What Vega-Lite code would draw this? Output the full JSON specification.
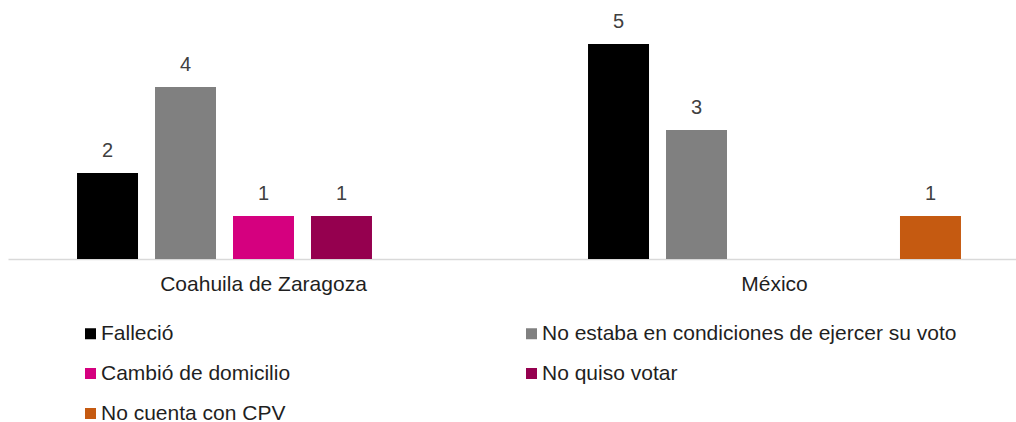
{
  "$schema": "https://vega.github.io/schema/vega-lite/v6.json",
  "width": 1016,
  "height": 258,
  "autosize": {"type": "none"},
  "padding": {"left": 0, "top": 1, "right": 0, "bottom": 163},
  "background": "white",
  "config": {
    "view": {"stroke": null},
    "font": "Liberation Sans"
  },
  "data": {
    "values": [
      {"estado": "Coahuila de Zaragoza", "motivo": "Falleció", "valor": 2},
      {"estado": "Coahuila de Zaragoza", "motivo": "No estaba en condiciones de ejercer su voto", "valor": 4},
      {"estado": "Coahuila de Zaragoza", "motivo": "Cambió de domicilio", "valor": 1},
      {"estado": "Coahuila de Zaragoza", "motivo": "No quiso votar", "valor": 1},
      {"estado": "México", "motivo": "Falleció", "valor": 5},
      {"estado": "México", "motivo": "No estaba en condiciones de ejercer su voto", "valor": 3},
      {"estado": "México", "motivo": "No cuenta con CPV", "valor": 1}
    ]
  },
  "encoding": {
    "x": {
      "field": "estado",
      "type": "nominal",
      "sort": ["Coahuila de Zaragoza", "México"],
      "scale": {"range": [8, 1030], "paddingInner": 0, "paddingOuter": 0},
      "axis": {
        "title": null,
        "labelAngle": 0,
        "ticks": false,
        "domainColor": "#d9d9d9",
        "domainWidth": 1.5,
        "labelFontSize": 21,
        "labelColor": "#1f1f1f",
        "labelPadding": 14,
        "labelLimit": 500,
        "labelFont": "Liberation Sans"
      }
    },
    "xOffset": {
      "field": "motivo",
      "type": "nominal",
      "sort": ["Falleció", "No estaba en condiciones de ejercer su voto", "Cambió de domicilio", "No quiso votar", "No cuenta con CPV"],
      "scale": {
        "domain": ["Falleció", "No estaba en condiciones de ejercer su voto", "Cambió de domicilio", "No quiso votar", "No cuenta con CPV"],
        "paddingInner": 0.218,
        "paddingOuter": 0.885
      }
    },
    "y": {
      "field": "valor",
      "type": "quantitative",
      "scale": {"domain": [0, 6], "nice": false},
      "axis": null
    }
  },
  "layer": [
    {
      "mark": {"type": "bar"},
      "encoding": {
        "color": {
          "field": "motivo",
          "type": "nominal",
          "scale": {
            "domain": ["Falleció", "No estaba en condiciones de ejercer su voto", "Cambió de domicilio", "No quiso votar", "No cuenta con CPV"],
            "range": ["#000000", "#808080", "#d5007f", "#95004f", "#c55a11"]
          },
          "legend": {
            "title": null,
            "orient": "none",
            "legendX": 80,
            "legendY": 322,
            "direction": "horizontal",
            "columns": 2,
            "gridAlign": "all",
            "columnPadding": 5,
            "rowPadding": 18,
            "padding": 0,
            "symbolType": "square",
            "symbolSize": 121,
            "symbolStrokeWidth": 0,
            "symbolOpacity": 1,
            "labelFontSize": 21,
            "labelFont": "Liberation Sans",
            "labelColor": "#1f1f1f",
            "labelOffset": 0,
            "labelLimit": 600
          }
        }
      }
    },
    {
      "mark": {"type": "text", "baseline": "middle", "dy": -22, "fontSize": 20, "color": "#404040", "font": "Liberation Sans"},
      "encoding": {
        "text": {"field": "valor", "type": "quantitative"}
      }
    }
  ]
}
